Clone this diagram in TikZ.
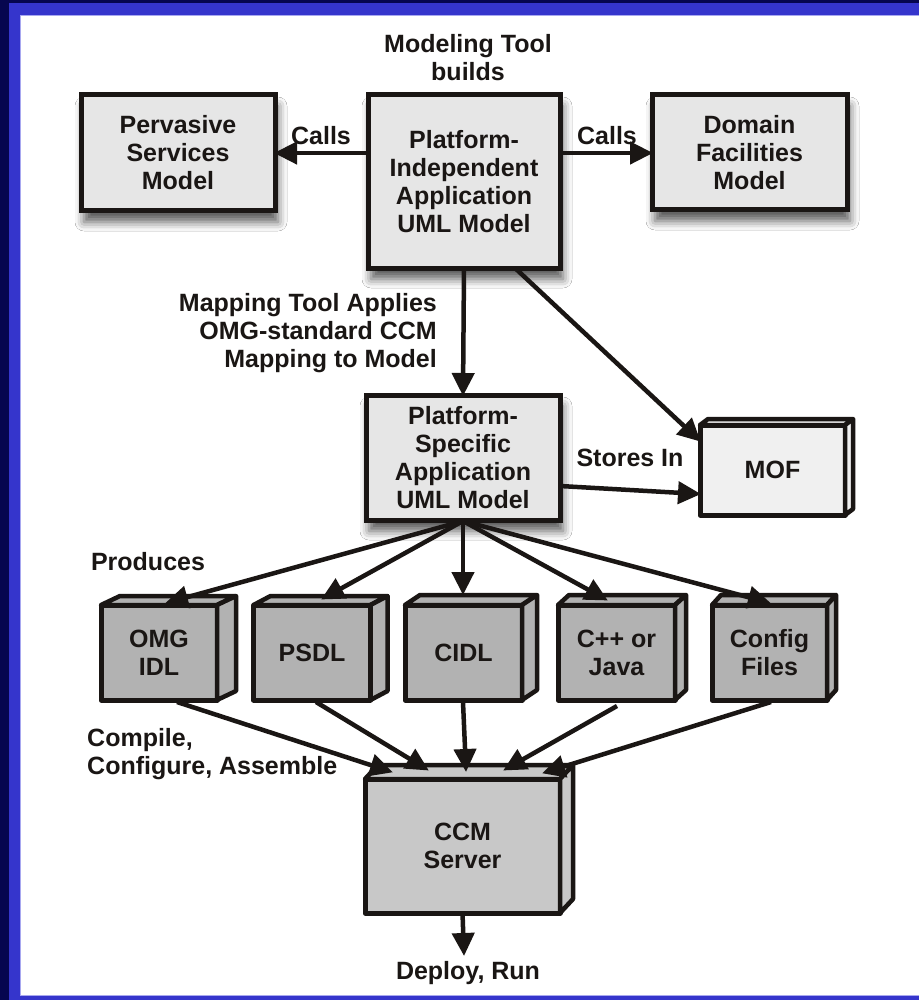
\documentclass[tikz,border=0pt]{standalone}
\usepackage{fontspec}
\setmainfont{Liberation Sans}
\usetikzlibrary{arrows.meta,shadows.blur,calc}
\definecolor{navyband}{HTML}{06064F}
\definecolor{blueband}{HTML}{3535CC}
\definecolor{edgeline}{HTML}{A8A8F0}
\definecolor{lightbox}{HTML}{E6E6E6}
\definecolor{moffill}{HTML}{F0F0F0}
\definecolor{graybox}{HTML}{B2B2B2}
\definecolor{ccmfill}{HTML}{C8C8C8}
\definecolor{ink}{HTML}{1A1614}
\newcommand\mkcube[9]{%
  \node[cubefront, fill=#8, minimum width=#4pt, minimum height=#5pt] (#1) at (#2,#3) {#9};
  \draw[cubeface, fill=#8] (#1.north west) -- ++(#6,-#7) -- ([shift={(#6,-#7)}]#1.north east) -- (#1.north east) -- cycle;
  \draw[cubeface, fill=#8] (#1.north east) -- ++(#6,-#7) -- ([shift={(#6,-#7)}]#1.south east) -- (#1.south east) -- cycle;
}
\begin{document}
\begin{tikzpicture}[x=1pt,y=-1pt,
  txt/.style={font=\fontsize{25}{28}\selectfont\bfseries, text=ink, align=center, inner sep=0pt},
  flatbox/.style={txt, draw=ink, line width=5pt, outer sep=0pt, fill=lightbox,
    blur shadow={shadow xshift=3pt, shadow yshift=-11pt, shadow blur radius=9pt, shadow opacity=65}},
  cubefront/.style={txt, draw=ink, line width=5pt, outer sep=0pt, line join=round},
  cubeface/.style={draw=ink, line width=4.5pt, line join=round},
  conn/.style={draw=ink, line width=4.5pt, -{Triangle[length=23pt,width=22pt]}, shorten >=-1pt}
]
% frame
\useasboundingbox (0,0) rectangle (919,1000);
\fill[navyband] (0,0) rectangle (919,1000);
\fill[blueband] (9,3) rectangle (919,1000);
\fill[edgeline] (20,15) rectangle (919,996);
\fill[white] (21,16) rectangle (919,995);

% top row
\node[flatbox, minimum width=194pt, minimum height=116pt] (pvs) at (178,153) {Pervasive\\Services\\Model};
\node[flatbox, minimum width=192pt, minimum height=173pt] (pim) at (464,181.5) {Platform-\\Independent\\Application\\UML Model};
\node[flatbox, minimum width=195pt, minimum height=115pt] (dom) at (749.5,152.5) {Domain\\Facilities\\Model};
\node[txt] (mtool) at (468,58) {Modeling Tool\\builds};

% PSM
\node[flatbox, minimum width=194pt, minimum height=125pt] (psm) at (463,457.5) {Platform-\\Specific\\Application\\UML Model};

% MOF
\mkcube{mof}{772.5}{470}{145}{90}{8}{6}{moffill}{MOF}

% bottom row
\mkcube{omg}{159}{652.5}{116}{95}{19}{9}{graybox}{OMG\\IDL}
\mkcube{psdl}{312}{652.5}{117}{95}{17}{9}{graybox}{PSDL}
\mkcube{cidl}{463.5}{652.5}{117}{95}{15}{10}{graybox}{CIDL}
\mkcube{cpp}{616.5}{652.5}{117}{95}{11}{10}{graybox}{C++ or\\Java}
\mkcube{cfg}{769.5}{652.5}{115}{95}{9}{10}{graybox}{Config\\Files}

% CCM server
\mkcube{ccm}{462.5}{846}{195}{134}{13}{14}{ccmfill}{CCM\\Server}

% labels
\node[txt] (callsl) at (321,136) {Calls};
\node[txt] (callsr) at (607,136) {Calls};
\node[txt, anchor=east, align=right] (maplbl) at (437,333) {Mapping Tool Applies\\OMG-standard CCM\\Mapping to Model};
\node[txt] (stores) at (630,458) {Stores In};
\node[txt] (produces) at (148,562) {Produces};
\node[txt, anchor=west, align=left] (compile) at (87,754) {Compile,\\Configure, Assemble};
\node[txt] (deploy) at (468,973) {Deploy, Run};

% connector end points
\coordinate (pimL) at (368,153);
\coordinate (pimR) at (560,153);
\coordinate (pimB) at (464,268);
\coordinate (pimBR) at (515,268);
\coordinate (mofTL) at (700,441);
\coordinate (psmR) at (560,486);
\coordinate (mofL) at (700,494);
\coordinate (psmB) at (463,521);
\coordinate (tOmg) at (166,603);
\coordinate (tPsdl) at (322,599);
\coordinate (tCidl) at (463,594);
\coordinate (tCpp) at (607,600);
\coordinate (tCfg) at (770,603);
\coordinate (sOmg) at (177,702);
\coordinate (sPsdl) at (316,702);
\coordinate (sCidl) at (463,702);
\coordinate (sCpp) at (617,706);
\coordinate (sCfg) at (771,702);
\coordinate (eOmg) at (392,772);
\coordinate (ePsdl) at (428,770);
\coordinate (eCidl) at (466,771);
\coordinate (eCpp) at (504,770);
\coordinate (eCfg) at (543,773);
\coordinate (runEnd) at (464,955);

% connectors
\draw[conn] (pimL) -- (pvs.east |- pimL);
\draw[conn] (pimR) -- (dom.west |- pimR);
\draw[conn] (pimB) -- (psm.north);
\draw[conn] (pimBR) -- (mofTL);
\draw[conn] (psmR) -- (mofL);
\draw[conn] (psmB) -- (tOmg);
\draw[conn] (psmB) -- (tPsdl);
\draw[conn] (psmB) -- (tCidl);
\draw[conn] (psmB) -- (tCpp);
\draw[conn] (psmB) -- (tCfg);
\draw[conn] (sOmg) -- (eOmg);
\draw[conn] (sPsdl) -- (ePsdl);
\draw[conn] (sCidl) -- (eCidl);
\draw[conn] (sCpp) -- (eCpp);
\draw[conn] (sCfg) -- (eCfg);
\draw[conn] (ccm.south) -- (runEnd);
\end{tikzpicture}
\end{document}
